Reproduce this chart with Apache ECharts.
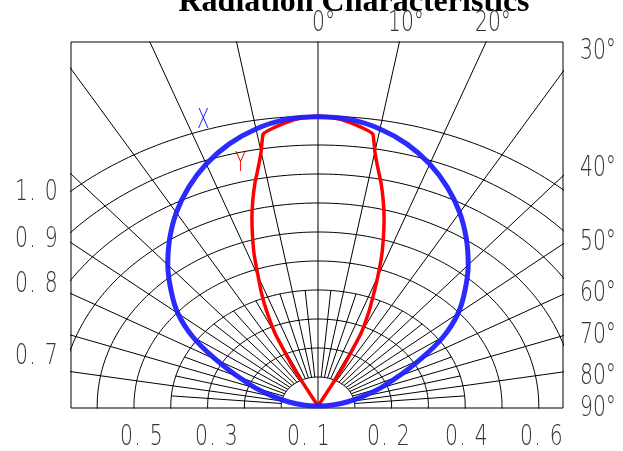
<!DOCTYPE html>
<html><head><meta charset="utf-8">
<script src="https://cdn.jsdelivr.net/npm/echarts@6/dist/echarts.min.js"></script>
<style>html,body{margin:0;padding:0;background:#fff}#c{width:623px;height:451px}</style>
</head><body><div id="c"></div>
<script>
// ---------- data ----------
const titleText = 'Radiation Characteristics';
// relative-intensity rings of the polar grid
const ringLevels = [0.1, 0.2, 0.3, 0.4, 0.5, 0.6, 0.7, 0.8, 0.9, 1.0];
// radial grid lines (degrees from axis)
const majorRayAngles = [-80, -70, -60, -50, -40, -30, -20, -10, 10, 20, 30, 40, 50, 60, 70, 80];
const minorRayAngles = [-85, -75, -65, -55, -45, -35, -25, -15, -5, 5, 15, 25, 35, 45, 55, 65, 75, 85];
// X direction pattern (blue)
const xAngles = [-90, -85, -80, -75, -70, -65, -60, -55, -50, -45, -40, -35, -30, -25, -20, -15, -10, -5, 0,
                 5, 10, 15, 20, 25, 30, 35, 40, 45, 50, 55, 60, 65, 70, 75, 80, 85, 90];
const xValues = [0, 0.04, 0.08, 0.125, 0.18, 0.24, 0.32, 0.415, 0.497, 0.565, 0.635, 0.703, 0.77, 0.832, 0.888, 0.935, 0.97, 0.992, 0.997,
                 0.992, 0.97, 0.935, 0.888, 0.832, 0.77, 0.703, 0.635, 0.565, 0.497, 0.415, 0.32, 0.24, 0.18, 0.125, 0.08, 0.04, 0];
// Y direction pattern (red)
const yAngles = [-28.5, -27, -25, -23, -21.5, -20, -18.5, -17, -15.5, -14, -12.5, -11, -10, -9, -7, -5, -3, 0,
                 3, 5, 7, 9, 10, 11, 12.5, 14, 15.5, 17, 18.5, 20, 21.5, 23, 25, 27, 28.5];
const yValues = [0, 0.14, 0.275, 0.36, 0.42, 0.475, 0.545, 0.608, 0.672, 0.732, 0.79, 0.845, 0.89, 0.95, 0.968, 0.982, 0.993, 1.0,
                 0.993, 0.982, 0.968, 0.95, 0.89, 0.845, 0.79, 0.732, 0.672, 0.608, 0.545, 0.475, 0.41, 0.355, 0.275, 0.14, 0];
// tick labels
const topLabels = ['0°', '10°', '20°'];
const rightLabels = ['30°', '40°', '50°', '60°', '70°', '80°', '90°'];
const leftLabels = [['1', '0'], ['0', '9'], ['0', '8'], ['0', '7']];
const bottomLabels = [['0', '5'], ['0', '3'], ['0', '1'], ['0', '2'], ['0', '4'], ['0', '6']];
const seriesNames = ['X', 'Y'];

// ---------- layout ----------
const CX = 318, CY = 406, SX = 368, SY = 290;
const GL = 71, GR = 563, GT = 42, GB = 408;
const topPos = [[312, 23], [388, 23], [475, 23]];
const rightPos = [[580, 51], [580, 168], [580, 242], [580, 293], [580, 335], [580, 376], [580, 408]];
const leftPos = [[15, 192], [15, 239], [15, 284], [15, 356]];
const bottomPos = [[120, 437], [195, 437], [287, 437], [367, 437], [445, 437], [520, 437]];
const namePos = [[197, 121], [235, 164]];

const deg = Math.PI / 180;
const polar = (a, r) => [r * Math.sin(a * deg), r * Math.cos(a * deg)];

const gridLine = (data) => ({
  type: 'line', data, symbol: 'none', showSymbol: false, silent: true, animation: false,
  clip: true, lineStyle: { color: '#000', width: 1 }, z: 1
});

const series = [];
ringLevels.forEach(r => {
  const pts = [];
  for (let a = -93; a <= 93; a += 1) pts.push(polar(a, r));
  series.push(gridLine(pts));
});
series.push(gridLine([polar(0, 0), polar(0, 3)]));
majorRayAngles.forEach(a => series.push(gridLine([polar(a, 0.1), polar(a, 3)])));
minorRayAngles.forEach(a => series.push(gridLine([polar(a, 0.1), polar(a, 0.4)])));

series.push({
  name: 'Y', type: 'line', data: yAngles.map((a, i) => polar(a, yValues[i])),
  symbol: 'none', showSymbol: false, animation: false, clip: true, z: 4, smooth: 0.15,
  lineStyle: { color: '#ff0000', width: 3.5 }
});
series.push({
  name: 'X', type: 'line', data: xAngles.map((a, i) => polar(a, xValues[i])),
  symbol: 'none', showSymbol: false, animation: false, clip: true, z: 5, smooth: 0.4,
  lineStyle: { color: '#2020ff', width: 5, opacity: 0.95 }
});

const FONT = '"DejaVu Sans", sans-serif';
const SCX = 0.7;
function plainText(t, p, color, size) {
  return { type: 'text', x: p[0], y: p[1], scaleX: SCX, silent: true,
    style: { text: t, fontFamily: FONT, fontWeight: 200, fontSize: size || 29, fill: color || '#333',
      align: 'left', verticalAlign: 'middle' } };
}
function numText(parts, p) {
  return { type: 'text', x: p[0], y: p[1], scaleX: SCX, silent: true,
    style: { text: '{d|' + parts[0] + '}{p|.}{d|' + parts[1] + '}', fill: '#333',
      fontFamily: FONT, fontWeight: 200, fontSize: 29, align: 'left', verticalAlign: 'middle',
      rich: {
        d: { fontFamily: FONT, fontWeight: 200, fontSize: 29, fill: '#333' },
        p: { fontFamily: FONT, fontWeight: 200, fontSize: 29, fill: '#333', padding: [0, 13, 0, 2] }
      } } };
}
const graphics = [];
graphics.push({ type: 'text', x: 354, y: 3, silent: true,
  style: { text: titleText, font: 'bold 32px "Liberation Serif", serif', fill: '#000', align: 'center', verticalAlign: 'middle' } });
topLabels.forEach((t, i) => graphics.push(plainText(t, topPos[i])));
rightLabels.forEach((t, i) => graphics.push(plainText(t, rightPos[i])));
leftLabels.forEach((t, i) => graphics.push(numText(t, leftPos[i])));
bottomLabels.forEach((t, i) => graphics.push(numText(t, bottomPos[i])));
graphics.push(plainText(seriesNames[0], namePos[0], '#2020ff', 26));
graphics.push(plainText(seriesNames[1], namePos[1], '#ff0000', 26));

const chart = echarts.init(document.getElementById('c'));
chart.setOption({
  animation: false,
  backgroundColor: '#fff',
  grid: { left: GL, top: GT, width: GR - GL, height: GB - GT, show: true, borderColor: '#000', borderWidth: 1, containLabel: false },
  xAxis: { type: 'value', min: (GL - CX) / SX, max: (GR - CX) / SX, show: false },
  yAxis: { type: 'value', min: (CY - GB) / SY, max: (CY - GT) / SY, show: false },
  series,
  graphic: graphics
});
</script></body></html>
